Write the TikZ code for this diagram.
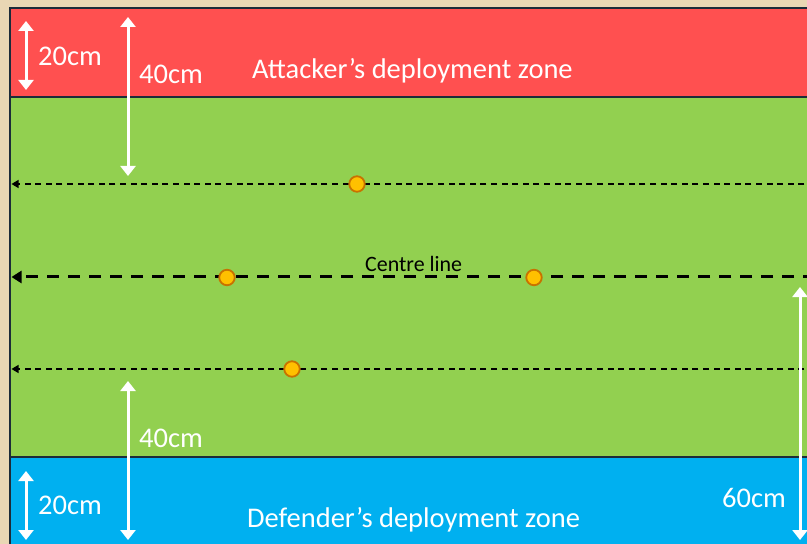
\documentclass[tikz,border=0pt]{standalone}
\usepackage{fontspec}
\setmainfont{Carlito}
\usetikzlibrary{arrows.meta}
\definecolor{sand}{HTML}{E9D7B4}
\definecolor{zonered}{HTML}{FF5050}
\definecolor{field}{HTML}{92D050}
\definecolor{zoneblue}{HTML}{00B0F0}
\definecolor{edgecol}{HTML}{1C2B39}
\definecolor{dotfill}{HTML}{FFC000}
\definecolor{dotedge}{HTML}{C87200}
\begin{document}
\begin{tikzpicture}[x=1bp,y=-1bp,
 measure/.style={white, line width=3bp, {Triangle[width=15bp,length=10bp]}-{Triangle[width=15bp,length=10bp]}},
 lbl/.style={text=white, font=\fontsize{28.6}{30}\selectfont, inner sep=0pt, anchor=base west},
 thinline/.style={black, line width=1.3bp, dash pattern=on 6bp off 4.6bp, -{Triangle[width=8bp,length=7bp]}},
 thickline/.style={black, line width=3bp, dash pattern=on 12bp off 9bp, -{Triangle[width=12bp,length=10bp]}},
 objective/.style={circle, fill=dotfill, draw=dotedge, line width=1.8bp, minimum size=15.5bp, inner sep=0pt},
 zoneline/.style={edgecol, line width=2.2bp}]
\useasboundingbox (0,0) rectangle (807,544);
\clip (0,0) rectangle (807,544);
\fill[sand] (0,0) rectangle (807,544);
% zones
\fill[zonered] (10,8) rectangle (830,97);
\fill[field] (10,97) rectangle (830,457);
\fill[zoneblue] (10,457) rectangle (830,560);
\draw[zoneline] (10,560) -- (10,8) -- (830,8);
\draw[zoneline] (10,97) -- (830,97);
\draw[zoneline] (10,457) -- (830,457);
% dashed lines
\coordinate (l1a) at (815,184); \coordinate (l1b) at (11.5,184);
\coordinate (l2a) at (815,277); \coordinate (l2b) at (11.5,277);
\coordinate (l3a) at (815,369); \coordinate (l3b) at (11.5,369);
\draw[thinline] (l1a) -- (l1b);
\draw[thickline] (l2a) -- (l2b);
\draw[thinline] (l3a) -- (l3b);
\node[text=black, font=\fontsize{22}{24}\selectfont, inner sep=0pt, anchor=base west] (cl) at (365,272) {Centre line};
% objectives
\node[objective] (o1) at (357,184) {};
\node[objective] (o2) at (227,277.5) {};
\node[objective] (o3) at (534,277.5) {};
\node[objective] (o4) at (292,369) {};
% measurement arrows
\coordinate (a1t) at (26,21); \coordinate (a1b) at (26,90);
\coordinate (a2t) at (128,17); \coordinate (a2b) at (128,176);
\coordinate (a3t) at (128,381); \coordinate (a3b) at (128,540);
\coordinate (a4t) at (26,471); \coordinate (a4b) at (26,540);
\coordinate (a5t) at (800,287); \coordinate (a5b) at (800,540);
\draw[measure] (a1t) -- (a1b);
\draw[measure] (a2t) -- (a2b);
\draw[measure] (a3t) -- (a3b);
\draw[measure] (a4t) -- (a4b);
\draw[measure] (a5t) -- (a5b);
% labels
\node[lbl] (t1) at (38,66) {20cm};
\node[lbl] (t2) at (139,84) {40cm};
\node[lbl] (t3) at (252,79) {Attacker’s deployment zone};
\node[lbl] (t4) at (139,447) {40cm};
\node[lbl] (t5) at (38,514) {20cm};
\node[lbl] (t6) at (247,527) {Defender’s deployment zone};
\node[lbl] (t7) at (722,507) {60cm};
\end{tikzpicture}
\end{document}
